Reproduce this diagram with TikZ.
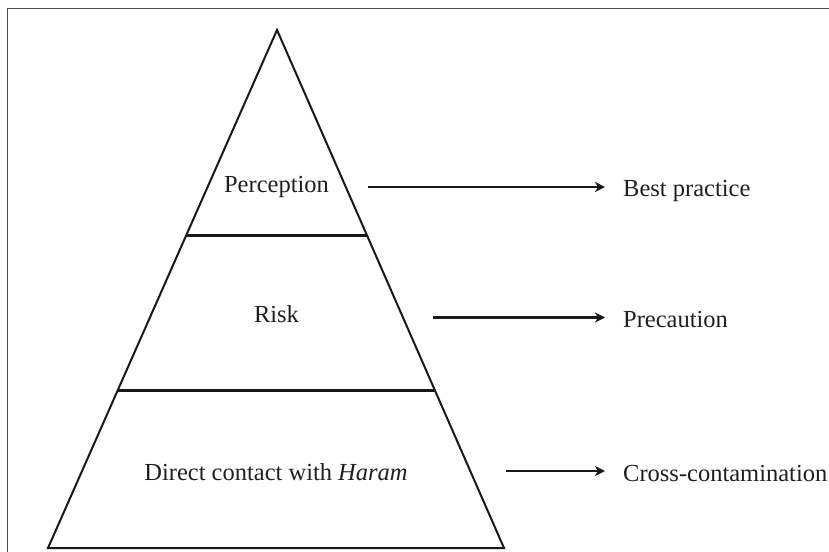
\documentclass[tikz,border=0pt]{standalone}
\usepackage{fontspec}
\setmainfont{Liberation Serif}
\usetikzlibrary{arrows.meta}
\begin{document}
\begin{tikzpicture}[x=1pt,y=-1pt,
  lbl/.style={inner sep=0pt, font=\fontsize{24.5}{29}\selectfont, text=black!88},
  side/.style={draw=black!90, line width=2pt, line join=miter},
  divider/.style={draw=black!90, line width=2.8pt},
  conn/.style={draw=black!90, line width=2.6pt, -{Stealth[length=10pt,width=10pt,inset=3pt]}, shorten >=18pt}]
  \useasboundingbox (0,0) rectangle (829,551);
  % outer frame (right and bottom run past the page edge)
  \draw[draw=black!70, line width=1.8pt] (7.5,8.5) rectangle (840,560);
  % pyramid outline
  \coordinate (apex) at (277,30);
  \coordinate (bl) at (48,548);
  \coordinate (br) at (504,548);
  \draw[side] (bl) -- (apex) -- (br) -- cycle;
  % level dividers
  \draw[divider] (186,235.5) -- (367,235.5);
  \draw[divider] (117,390.5) -- (435,390.5);
  % level labels
  \node[lbl, anchor=base] (perc) at (276.5,192) {Perception};
  \node[lbl, anchor=base] (risk) at (276.5,322) {Risk};
  \node[lbl, anchor=base] (dch) at (276,480) {Direct contact with \textit{Haram}};
  % outcome labels
  \node[lbl, anchor=base west] (best) at (623,196) {Best practice};
  \node[lbl, anchor=base west] (prec) at (623,327) {Precaution};
  \node[lbl, anchor=base west] (cross) at (623,481.5) {Cross-contamination};
  % connectors
  \coordinate (s1) at (368,187);
  \coordinate (s2) at (433,317.5);
  \coordinate (s3) at (506,471);
  \draw[conn] (s1) -- (s1 -| best.west);
  \draw[conn] (s2) -- (s2 -| prec.west);
  \draw[conn] (s3) -- (s3 -| cross.west);
\end{tikzpicture}
\end{document}
